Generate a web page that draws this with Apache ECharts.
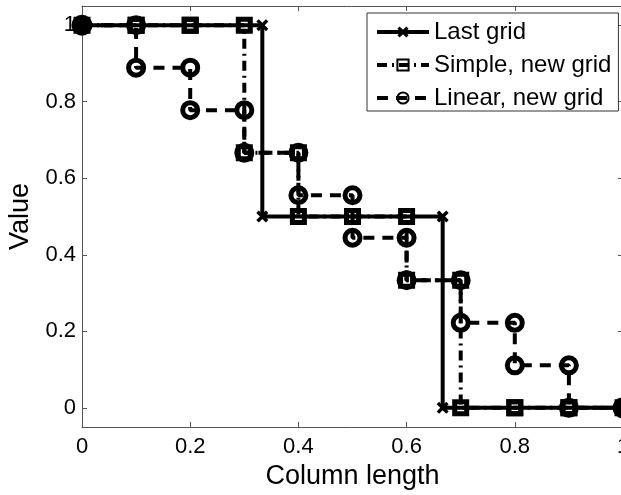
<!DOCTYPE html>
<html>
<head>
<meta charset="utf-8">
<script src="https://cdn.jsdelivr.net/npm/echarts@6/dist/echarts.min.js"></script>
<style>
  html, body { margin: 0; padding: 0; background: #fff; }
  #chart { width: 621px; height: 495px; }
</style>
</head>
<body>
<div id="chart"></div>
<script>
// Step data: cell edges and the value held on each cell
var lastEdges = [0, 0.3333, 0.6667, 1];
var lastValues = [1, 0.5, 0];

var newEdges = [0, 0.1, 0.2, 0.3, 0.4, 0.5, 0.6, 0.7, 0.8, 0.9, 1];
var simpleValues = [1, 1, 1, 0.6667, 0.5, 0.5, 0.3333, 0, 0, 0];
var linearValues = [1, 0.8889, 0.7778, 0.6667, 0.5556, 0.4444, 0.3333, 0.2222, 0.1111, 0];

var xTicks = [0, 0.2, 0.4, 0.6, 0.8, 1];
var yTicks = [0, 0.2, 0.4, 0.6, 0.8, 1];

// stairs: both corners of every cell become vertices (each gets a marker)
function stairs(edges, values) {
    var pts = [];
    for (var i = 0; i < values.length; i++) {
        pts.push([edges[i], values[i]]);
        pts.push([edges[i + 1], values[i]]);
    }
    return pts;
}

// the end points where all three markers pile up show as a solid blob
function blobEnds(pts) {
    var blob = { symbolSize: 16, itemStyle: { color: '#000' } };
    return pts.map(function (p, i) {
        if (i === 0 || i === pts.length - 1) {
            return Object.assign({ value: p }, blob);
        }
        return p;
    });
}

var font = 'Liberation Sans';
var axisColor = '#555';
var xMark = 'path://M0,2L2,0L5,3L8,0L10,2L7,5L10,8L8,10L5,7L2,10L0,8L3,5Z';

var chartDom = document.getElementById('chart');
var myChart = echarts.init(chartDom);
var option;

function boxAxis(pos, ticks, extra) {
    var a = {
        type: 'value',
        position: pos,
        axisLine: { show: true, onZero: false, lineStyle: { color: axisColor, width: 1 } },
        axisTick: { show: true, inside: true, length: 5, customValues: ticks, lineStyle: { color: axisColor } },
        axisLabel: { show: false },
        splitLine: { show: false }
    };
    return Object.assign(a, extra);
}

option = {
    animation: false,
    backgroundColor: '#fff',
    grid: { left: 82, top: 6, width: 541, height: 421, outerBoundsMode: 'none', containLabel: false },
    legend: {
        orient: 'vertical',
        left: 367,
        top: 13,
        padding: [7, 7, 1, 8],
        itemWidth: 52,
        itemHeight: 14,
        itemGap: 9,
        backgroundColor: '#fff',
        borderColor: '#333',
        borderWidth: 1,
        borderRadius: 0,
        lineStyle: { width: 4 },
        textStyle: { fontFamily: font, fontSize: 24, lineHeight: 24, color: '#000' },
        data: ['Last grid', 'Simple, new grid', 'Linear, new grid']
    },
    xAxis: [
        boxAxis('bottom', xTicks, {
            min: 0, max: 1,
            axisLabel: { show: true, customValues: xTicks, color: '#000', fontFamily: font, fontSize: 22, margin: 9 },
            name: 'Column length',
            nameLocation: 'middle',
            nameGap: 21,
            nameTextStyle: { fontFamily: font, fontSize: 27, color: '#000' }
        }),
        boxAxis('top', xTicks, { min: 0, max: 1 })
    ],
    yAxis: [
        boxAxis('left', yTicks, {
            min: -0.05, max: 1.05,
            axisLabel: { show: true, customValues: yTicks, color: '#000', fontFamily: font, fontSize: 22, margin: 6 },
            name: 'Value',
            nameLocation: 'middle',
            nameRotate: 90,
            nameGap: 40,
            nameTextStyle: { fontFamily: font, fontSize: 27, color: '#000' }
        }),
        boxAxis('right', yTicks, { min: -0.05, max: 1.05 })
    ],
    series: [
        {
            name: 'Last grid',
            type: 'line',
            data: stairs(lastEdges, lastValues),
            symbol: xMark,
            symbolSize: 12,
            showAllSymbol: true,
            clip: false,
            lineStyle: { color: '#000', width: 4 },
            itemStyle: { color: '#000' },
            emphasis: { disabled: true }
        },
        {
            name: 'Simple, new grid',
            type: 'line',
            data: stairs(newEdges, simpleValues),
            symbol: 'rect',
            symbolSize: 12,
            showAllSymbol: true,
            clip: false,
            lineStyle: { color: '#000', width: 4, type: [10, 5, 2, 5] },
            itemStyle: { color: 'rgba(0,0,0,0)', borderColor: '#000', borderWidth: 5 },
            emphasis: { disabled: true }
        },
        {
            name: 'Linear, new grid',
            type: 'line',
            data: blobEnds(stairs(newEdges, linearValues)),
            symbol: 'circle',
            symbolSize: 15,
            showAllSymbol: true,
            clip: false,
            lineStyle: { color: '#000', width: 4, type: [11, 8] },
            itemStyle: { color: 'rgba(0,0,0,0)', borderColor: '#000', borderWidth: 5 },
            emphasis: { disabled: true }
        }
    ]
};

option && myChart.setOption(option);
</script>
</body>
</html>
